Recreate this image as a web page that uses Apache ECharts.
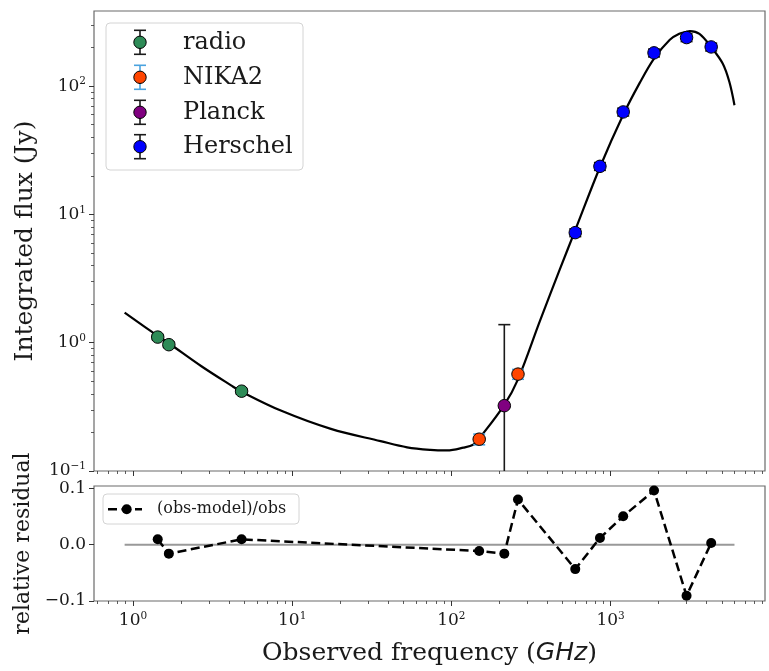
<!DOCTYPE html>
<html>
<head>
<meta charset="utf-8">
<script src="https://cdn.jsdelivr.net/npm/echarts@6/dist/echarts.min.js"></script>
<style>
  html, body { margin: 0; padding: 0; background: #ffffff; }
  #chart { width: 769px; height: 671px; }
</style>
</head>
<body>
<div id="chart"></div>
<script>
// ---- Photometry (GHz, Jy) ----
const radioFreq = [1.43, 1.68, 4.81];
const radioFlux = [1.106, 0.965, 0.419];
const radioErr = [0.05, 0.045, 0.02];

const nikaFreq = [149.5, 262];
const nikaFlux = [0.177, 0.569];
const nikaErr = [0.017, 0.05];

const planckFreq = [215];
const planckFlux = [0.323];
const planckErr = [1.06];

const herschelFreq = [600, 857, 1200, 1874, 3000, 4283];
const herschelFlux = [7.21, 23.7, 62.9, 181.6, 239, 202];
const herschelErr = [0.5, 1.65, 4.4, 12.7, 16.7, 14.1];

// ---- Best-fit SED model ----
const modelFreq = [0.886, 1.43, 1.68, 2.69, 4.13, 4.81, 8.48, 17.5, 35.9, 52.7, 73.8, 93.8, 119, 138, 149.5,
                   215, 262, 360, 481, 600, 857, 1200, 1524, 1874, 2355, 2700, 3000, 3150, 3615, 4283, 5060, 5570, 6000];
const modelFlux = [1.714, 1.13, 0.99, 0.655, 0.465, 0.415, 0.296, 0.213, 0.171, 0.153, 0.146, 0.1446, 0.152, 0.161, 0.179,
                   0.328, 0.518, 1.48, 3.76, 7.55, 23.3, 59.8, 106, 164, 230, 256, 265, 268, 255, 201.4, 150, 108, 71];

// ---- Relative residuals (obs-model)/obs ----
const residFreq = [1.43, 1.68, 4.81, 149.5, 215, 262, 600, 857, 1200, 1874, 3000, 4283];
const residVal = [0.0094, -0.016, 0.0094, -0.0114, -0.016, 0.080, -0.0434, 0.0117, 0.0503, 0.096, -0.0907, 0.0028];
const zeroLineFreq = [0.886, 6000];
const zeroLineVal = [0, 0];

// ---- Axis ticks ----
const xMajorTicks = [1, 10, 100, 1000];
const xMinorTicks = [0.6, 0.7, 0.8, 0.9, 2, 3, 4, 5, 6, 7, 8, 9, 20, 30, 40, 50, 60, 70, 80, 90,
                     200, 300, 400, 500, 600, 700, 800, 900, 2000, 3000, 4000, 5000, 6000, 7000, 8000, 9000];
const yMajorTicks = [0.1, 1, 10, 100];
const yMinorTicks = [0.2, 0.3, 0.4, 0.5, 0.6, 0.7, 0.8, 0.9, 2, 3, 4, 5, 6, 7, 8, 9,
                     20, 30, 40, 50, 60, 70, 80, 90, 200, 300];
const residTicks = [-0.1, 0, 0.1];

const groupNames = ['radio', 'NIKA2', 'Planck', 'Herschel'];
const residLegendName = '(obs-model)/obs';

// ---- Styling ----
const SERIF = 'DejaVu Serif';
const INK = '#1a1a1a';
const FRAME = '#6a6a6a';
const X_MIN = 0.569, X_MAX = 9330;
const Y_MIN = 0.1, Y_MAX = 385;
const R_MIN = -0.1, R_MAX = 0.104;

const groupStyle = {
  radio:    { fill: '#2e8b57', bar: '#1a1a1a' },
  NIKA2:    { fill: '#ff4500', bar: '#4aa3df' },
  Planck:   { fill: '#800080', bar: '#1a1a1a' },
  Herschel: { fill: '#0000ff', bar: '#1a1a1a' }
};

const topRect = { left: 94, top: 11, width: 671, height: 460 };
const botRect = { left: 94, top: 486, width: 671, height: 115 };

const powRich = {
  b: { fontFamily: SERIF, fontSize: 17, lineHeight: 20, color: INK },
  s: { fontFamily: SERIF, fontSize: 10.5, lineHeight: 12, color: INK, verticalAlign: 'top', padding: [0, 0, 8, 0] }
};
function powLabel(v) {
  const e = Math.round(Math.log10(v));
  return '{b|10}{s|' + (e < 0 ? '\u2212' + (-e) : String(e)) + '}';
}

function tickAxis(extra) {
  return Object.assign({
    axisLine: { show: false, onZero: false },
    splitLine: { show: false },
    axisLabel: { show: false },
    axisTick: { show: false }
  }, extra);
}

function errorSeries(name, freq, flux, err) {
  const color = groupStyle[name].bar;
  return {
    type: 'custom',
    name: name + ' err',
    xAxisIndex: 0, yAxisIndex: 0,
    z: 3,
    silent: true,
    data: freq.map((f, i) => [f, flux[i], err[i]]),
    encode: { x: 0, y: 1 },
    renderItem: function (params, api) {
      const x = api.value(0), y = api.value(1), e = api.value(2);
      const cs = params.coordSys;
      const lowVal = Math.max(y - e, Y_MIN);
      const pHi = api.coord([x, y + e]);
      const pLo = api.coord([x, lowVal]);
      const yTop = Math.max(pHi[1], cs.y);
      const yBot = Math.min(pLo[1], cs.y + cs.height);
      const st = { stroke: color, lineWidth: 1.6 };
      const cap = 6;
      const kids = [{ type: 'line', shape: { x1: pHi[0], y1: yTop, x2: pHi[0], y2: yBot }, style: st }];
      if (pHi[1] >= cs.y) {
        kids.push({ type: 'line', shape: { x1: pHi[0] - cap, y1: pHi[1], x2: pHi[0] + cap, y2: pHi[1] }, style: st });
      }
      if (y - e > Y_MIN) {
        kids.push({ type: 'line', shape: { x1: pLo[0] - cap, y1: pLo[1], x2: pLo[0] + cap, y2: pLo[1] }, style: st });
      }
      return { type: 'group', children: kids };
    }
  };
}

function pointSeries(name, freq, flux) {
  return {
    type: 'scatter',
    name: name,
    xAxisIndex: 0, yAxisIndex: 0,
    z: 4,
    symbol: 'circle',
    symbolSize: 12.5,
    itemStyle: { color: groupStyle[name].fill, borderColor: '#000000', borderWidth: 1, opacity: 1 },
    data: freq.map((f, i) => [f, flux[i]])
  };
}

// ---- Legends drawn as graphic elements (errorbar glyph + marker + text) ----
const legendItemsY = [42.3, 77.3, 112.3, 146.7];
const legendGraphics = [{
  type: 'rect',
  shape: { x: 106, y: 23, width: 197, height: 147, r: 4 },
  style: { fill: 'rgba(255,255,255,0.85)', stroke: '#d4d4d4', lineWidth: 1 },
  z: 10
}];
groupNames.forEach((n, i) => {
  const cy = legendItemsY[i];
  const bar = groupStyle[n].bar;
  legendGraphics.push(
    { type: 'line', shape: { x1: 140, y1: cy - 12, x2: 140, y2: cy + 12 }, style: { stroke: bar, lineWidth: 1.6 }, z: 11 },
    { type: 'line', shape: { x1: 134, y1: cy - 12, x2: 146, y2: cy - 12 }, style: { stroke: bar, lineWidth: 1.6 }, z: 11 },
    { type: 'line', shape: { x1: 134, y1: cy + 12, x2: 146, y2: cy + 12 }, style: { stroke: bar, lineWidth: 1.6 }, z: 11 },
    { type: 'circle', shape: { cx: 140, cy: cy, r: 6.2 }, style: { fill: groupStyle[n].fill, stroke: '#000000', lineWidth: 1 }, z: 12 },
    { type: 'text', x: 183, y: cy, style: { text: n, font: '24px "' + SERIF + '"', fill: INK, textVerticalAlign: 'middle', textAlign: 'left' }, z: 12 }
  );
});
legendGraphics.push(
  { type: 'rect', shape: { x: 103, y: 494, width: 196, height: 30, r: 4 },
    style: { fill: 'rgba(255,255,255,0.85)', stroke: '#d4d4d4', lineWidth: 1 }, z: 10 },
  { type: 'line', shape: { x1: 108, y1: 509.3, x2: 142, y2: 509.3 },
    style: { stroke: '#000000', lineWidth: 2.5, lineDash: [9, 4.5] }, z: 11 },
  { type: 'circle', shape: { cx: 126.7, cy: 509.3, r: 5 }, style: { fill: '#000000' }, z: 12 },
  { type: 'text', x: 157, y: 509.3,
    style: { text: residLegendName, font: '16px "' + SERIF + '"', fill: INK, textVerticalAlign: 'middle', textAlign: 'left' }, z: 12 }
);

const majorTickStyle = { color: '#333333', width: 1 };
const minorTickStyle = { color: '#333333', width: 0.8 };

const option = {
  animation: false,
  backgroundColor: '#ffffff',
  textStyle: { fontFamily: SERIF, color: INK },
  grid: [
    Object.assign({ show: true, borderColor: FRAME, borderWidth: 1.2, backgroundColor: 'transparent', outerBoundsMode: 'none', containLabel: false }, topRect),
    Object.assign({ show: true, borderColor: FRAME, borderWidth: 1.2, backgroundColor: 'transparent', outerBoundsMode: 'none', containLabel: false }, botRect),
    Object.assign({ show: false, outerBoundsMode: 'none', containLabel: false }, topRect),
    Object.assign({ show: false, outerBoundsMode: 'none', containLabel: false }, botRect)
  ],
  xAxis: [
    tickAxis({ type: 'log', logBase: 10, gridIndex: 0, min: X_MIN, max: X_MAX,
      axisTick: { show: true, customValues: xMajorTicks, length: 5, lineStyle: majorTickStyle } }),
    tickAxis({ type: 'log', logBase: 10, gridIndex: 1, min: X_MIN, max: X_MAX,
      axisTick: { show: true, customValues: xMajorTicks, length: 5, lineStyle: majorTickStyle },
      axisLabel: { show: true, customValues: xMajorTicks, formatter: powLabel, rich: powRich, margin: 10 },
      name: 'Observed frequency ({i|GHz})',
      nameLocation: 'middle',
      nameGap: 40,
      nameTextStyle: { fontFamily: SERIF, fontSize: 25, color: INK,
        rich: { i: { fontFamily: 'DejaVu Sans', fontStyle: 'italic', fontSize: 25, color: INK } } } }),
    tickAxis({ type: 'log', logBase: 10, gridIndex: 2, min: X_MIN, max: X_MAX,
      axisTick: { show: true, customValues: xMinorTicks, length: 3, lineStyle: minorTickStyle } }),
    tickAxis({ type: 'log', logBase: 10, gridIndex: 3, min: X_MIN, max: X_MAX,
      axisTick: { show: true, customValues: xMinorTicks, length: 3, lineStyle: minorTickStyle } })
  ],
  yAxis: [
    tickAxis({ type: 'log', logBase: 10, gridIndex: 0, min: Y_MIN, max: Y_MAX,
      axisTick: { show: true, customValues: yMajorTicks, length: 5, lineStyle: majorTickStyle },
      axisLabel: { show: true, customValues: yMajorTicks, formatter: powLabel, rich: powRich, margin: 8 },
      name: 'Integrated flux (Jy)',
      nameLocation: 'middle',
      nameGap: 52,
      nameTextStyle: { fontFamily: SERIF, fontSize: 25, color: INK } }),
    tickAxis({ type: 'value', gridIndex: 1, min: R_MIN, max: R_MAX,
      axisTick: { show: true, customValues: residTicks, length: 5, lineStyle: majorTickStyle },
      axisLabel: { show: true, customValues: residTicks, margin: 8,
        fontFamily: SERIF, fontSize: 17, color: INK,
        formatter: v => v.toFixed(1).replace('-', '\u2212') },
      name: 'relative residual',
      nameLocation: 'middle',
      nameGap: 54,
      nameTextStyle: { fontFamily: SERIF, fontSize: 22, color: INK } }),
    tickAxis({ type: 'log', logBase: 10, gridIndex: 2, min: Y_MIN, max: Y_MAX,
      axisTick: { show: true, customValues: yMinorTicks, length: 3, lineStyle: minorTickStyle } }),
    tickAxis({ type: 'value', gridIndex: 3, min: R_MIN, max: R_MAX })
  ],
  series: [
    {
      type: 'line', name: 'model', xAxisIndex: 0, yAxisIndex: 0, z: 2,
      showSymbol: false, smooth: 0.35, silent: true,
      lineStyle: { color: '#000000', width: 2.2 },
      data: modelFreq.map((f, i) => [f, modelFlux[i]])
    },
    errorSeries('radio', radioFreq, radioFlux, radioErr),
    errorSeries('NIKA2', nikaFreq, nikaFlux, nikaErr),
    errorSeries('Planck', planckFreq, planckFlux, planckErr),
    errorSeries('Herschel', herschelFreq, herschelFlux, herschelErr),
    pointSeries('radio', radioFreq, radioFlux),
    pointSeries('NIKA2', nikaFreq, nikaFlux),
    pointSeries('Planck', planckFreq, planckFlux),
    pointSeries('Herschel', herschelFreq, herschelFlux),
    {
      type: 'line', name: 'zero', xAxisIndex: 1, yAxisIndex: 1, z: 1,
      showSymbol: false, silent: true,
      lineStyle: { color: '#999999', width: 2 },
      data: zeroLineFreq.map((f, i) => [f, zeroLineVal[i]])
    },
    {
      type: 'line', name: residLegendName, xAxisIndex: 1, yAxisIndex: 1, z: 3,
      symbol: 'circle', symbolSize: 10, showSymbol: true,
      itemStyle: { color: '#000000' },
      lineStyle: { color: '#000000', width: 2.5, type: [9, 4.5] },
      data: residFreq.map((f, i) => [f, residVal[i]])
    }
  ],
  graphic: legendGraphics
};

const chart = echarts.init(document.getElementById('chart'));
chart.setOption(option);
</script>
</body>
</html>
